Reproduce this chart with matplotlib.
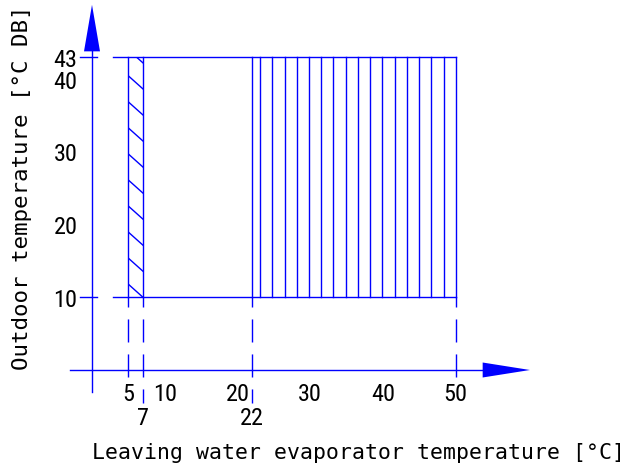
import numpy as np
import matplotlib
matplotlib.use('Agg')
import matplotlib.pyplot as plt
from matplotlib import font_manager
from matplotlib.patches import Polygon, Rectangle

# operating envelope values
x_ticks_top = [5, 10, 20, 30, 40, 50]
x_ticks_low = [7, 22]
y_ticks = [10, 20, 30, 40, 43]
zone_a = [5, 7]        # hatched (diagonal) water range
zone_b = [22, 50]      # hatched (vertical) water range
t_out = [10, 43]       # outdoor temperature limits
x_label = 'Leaving water evaporator temperature [°C]'
y_label = 'Outdoor temperature [°C DB]'

blue = '#0000ff'
# narrow font for the numbers if one is around
names = {f.name for f in font_manager.fontManager.ttflist}
tick_font, tick_size = ['Liberation Sans', 'DejaVu Sans'], 17
for name, size in [('Liberation Sans Narrow', 17.5), ('Roboto Condensed', 17.5),
                   ('Open Sans Condensed', 17.5)]:
    if name in names:
        tick_font, tick_size = [name, 'DejaVu Sans'], size
        break
mono_font = ['DejaVu Sans Mono']

scale = 7.275  # px per unit (same on both axes)
fig = plt.figure(figsize=(6.3, 4.74), dpi=100)
ax = fig.add_axes([0, 0, 1, 1])
ax.set_xlim(-92 / scale, (630 - 92) / scale)
ax.set_ylim((370 - 474) / scale, 370 / scale)
ax.axis('off')

lw = 1.0
# axes with arrows
ax.plot([0, 0], [-3.0, 44.0], color=blue, lw=lw)
ax.plot([-3.0, 54.0], [0, 0], color=blue, lw=lw)
ax.add_patch(Polygon([[-1.1, 43.8], [1.1, 43.8], [0, 50.2]], closed=True,
                     color=blue, lw=0))
ax.add_patch(Polygon([[53.7, -1.03], [53.7, 1.03], [60.2, 0]], closed=True,
                     color=blue, lw=0))

# horizontal limit lines with small marks on the y axis
for t in t_out:
    ax.plot([2.9, zone_b[1]], [t, t], color=blue, lw=lw)
    ax.plot([-1.6, 0.7], [t, t], color=blue, lw=lw)

# zone borders
for x in zone_a + zone_b:
    ax.plot([x, x], t_out, color=blue, lw=lw)

# dashed drop lines
dash = (9.4, (16.6, 8.6))
for x in zone_a + zone_b:
    bottom = -4.5 if x in x_ticks_low else -1.5
    ax.plot([x, x], [t_out[0], bottom], color=blue, lw=lw, ls=dash)

# diagonal hatch in zone a
clip = Rectangle((zone_a[0], t_out[0]), zone_a[1] - zone_a[0], t_out[1] - t_out[0],
                 transform=ax.transData, fill=False, lw=0)
ax.add_patch(clip)
drop = 1.79
for y0 in np.arange(t_out[0] + drop, t_out[1] + 2 * drop, 3.58):
    ln, = ax.plot(zone_a, [y0, y0 - drop], color=blue, lw=lw)
    ln.set_clip_path(clip)

# vertical hatch in zone b
for x in np.linspace(23.1, zone_b[1], 17)[:-1]:
    ax.plot([x, x], t_out, color=blue, lw=lw)

# tick labels
for v in x_ticks_top:
    ax.text(v, -3.0, str(v), ha='center', va='center_baseline',
            fontsize=tick_size, family=tick_font)
for v in x_ticks_low:
    ax.text(v, -6.3, str(v), ha='center', va='center_baseline',
            fontsize=tick_size, family=tick_font)
for v in y_ticks:
    ax.text(-2.0, v - 0.1, str(v), ha='right', va='center_baseline',
            fontsize=tick_size, family=tick_font)

ax.text(36.6, -11.4, x_label, ha='center', va='center', fontsize=15.5, family=mono_font)
ax.text(-9.6, 25.1, y_label, ha='center', va='center', rotation=90,
        fontsize=16.2, family=mono_font)

fig.savefig('out.png', dpi=100)
